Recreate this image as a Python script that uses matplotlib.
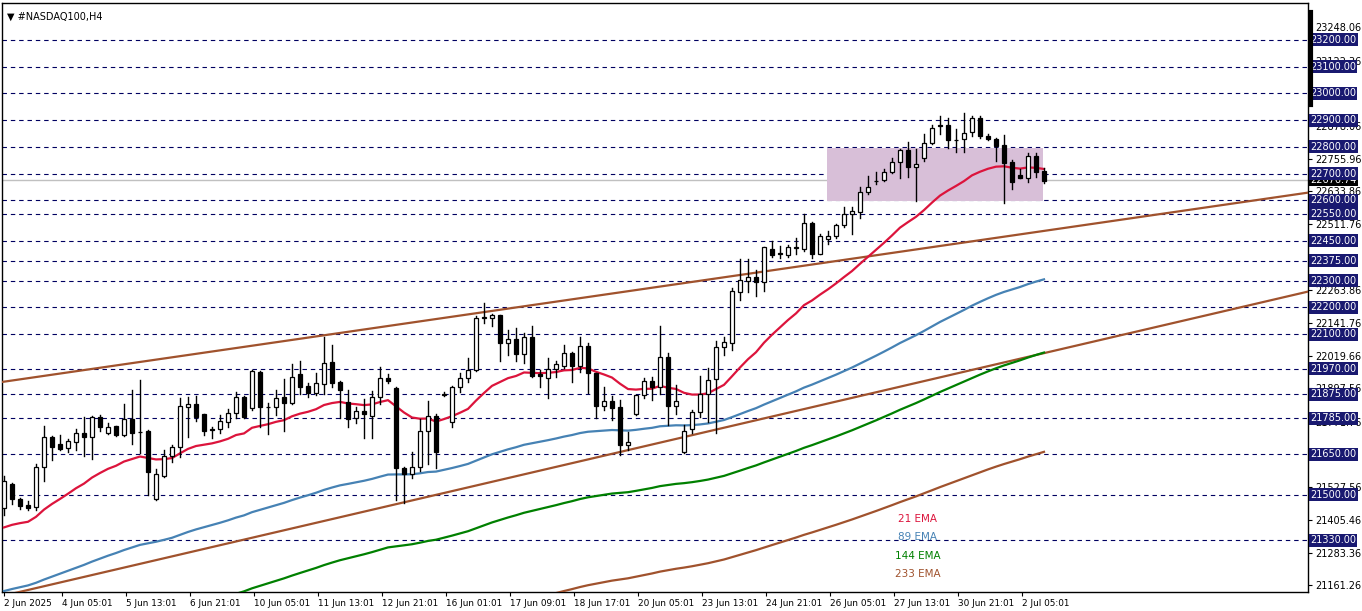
import numpy as np
import matplotlib
matplotlib.use("Agg")
import matplotlib.pyplot as plt
from matplotlib.patches import Rectangle
from matplotlib.transforms import blended_transform_factory

# ---------------- data ----------------
opens = [21449,21539,21483,21460,21453,21602,21714,21688,21673,21696,21729,21714,21789,21729,21755,21722,21782,21733,21737,21483,
         21569,21643,21677,21826,21838,21800,21744,21744,21770,21804,21864,21823,21957,21826,21826,21864,21841,21950,21905,21879,
         21912,21994,21920,21845,21785,21811,21793,21864,21935,21897,21599,21576,21602,21737,21793,21873,21770,21901,21935,21964,
         22162,22162,22170,22065,22080,22024,22088,21950,21935,21968,21979,22028,21979,22054,21953,21830,21849,21826,21684,21800,
         21871,21923,21901,22013,21830,21658,21744,21808,21875,21931,22050,22065,22259,22300,22315,22293,22420,22401,22394,22423,
         22420,22517,22401,22457,22468,22509,22550,22558,22633,22674,22677,22707,22745,22789,22726,22757,22815,22883,22883,22827,
         22830,22857,22909,22842,22830,22808,22745,22696,22685,22767,22711]
highs = [21569,21545,21487,21475,21614,21755,21720,21722,21707,21744,21789,21793,21796,21767,21758,21838,21890,21927,21740,21595,
         21666,21685,21860,21864,21867,21803,21752,21796,21819,21882,21867,21964,21961,21841,21890,21931,21987,21998,21916,21953,
         22088,22061,21923,21890,21826,21856,21886,21976,21950,21901,21602,21658,21782,21849,21800,21882,21905,21953,22009,22166,
         22218,22177,22173,22114,22121,22106,22132,21964,22009,21998,22061,22032,22091,22065,21956,21901,21867,21852,21733,21874,
         21935,21938,22129,22028,21908,21759,21815,21942,21972,22076,22091,22271,22379,22379,22338,22427,22450,22431,22435,22461,
         22550,22521,22476,22487,22513,22577,22577,22651,22692,22707,22718,22760,22792,22819,22793,22849,22883,22916,22909,22868,
         22927,22916,22916,22849,22833,22845,22752,22718,22778,22778,22722]
lows = [21423,21464,21446,21442,21442,21550,21628,21666,21658,21666,21643,21632,21737,21725,21718,21718,21688,21655,21498,21479,
        21565,21621,21640,21714,21774,21722,21711,21729,21752,21785,21786,21815,21752,21725,21796,21737,21838,21875,21864,21871,
        21875,21901,21785,21752,21767,21711,21711,21838,21919,21479,21468,21561,21587,21614,21599,21870,21752,21882,21920,21961,
        22140,22132,21998,22021,21998,21991,21940,21901,21860,21938,21972,21920,21957,21879,21785,21815,21778,21647,21666,21796,
        21860,21852,21875,21759,21800,21655,21729,21789,21770,21729,22021,22039,22226,22256,22244,22263,22390,22386,22390,22401,
        22412,22386,22398,22438,22461,22502,22476,22536,22625,22662,22673,22704,22685,22689,22599,22746,22812,22849,22797,22782,
        22782,22842,22834,22827,22746,22592,22644,22683,22670,22689,22666]
closes = [21550,21483,21457,21449,21602,21714,21677,21670,21699,21729,21714,21789,21752,21752,21722,21782,21729,21734,21584,21576,
          21643,21677,21830,21838,21789,21737,21740,21774,21804,21864,21789,21961,21826,21828,21860,21841,21938,21901,21879,21916,
          21991,21916,21890,21782,21811,21800,21864,21935,21923,21599,21576,21602,21737,21793,21658,21876,21901,21935,21964,22162,
          22164,22173,22065,22080,22024,22088,21942,21942,21968,21987,22028,21979,22054,21953,21830,21849,21823,21684,21696,21871,
          21923,21901,22013,21830,21849,21737,21808,21875,21927,22050,22069,22263,22304,22315,22293,22424,22397,22400,22427,22425,
          22517,22401,22465,22468,22509,22550,22562,22633,22651,22672,22707,22745,22789,22726,22737,22815,22872,22879,22827,22825,
          22853,22909,22842,22830,22804,22741,22670,22685,22767,22707,22674]

ema_periods = [21, 89, 144, 233]
ema_seeds = [21360, 21130, 20832, 20556]
ema_colors = ["#DC143C", "#4682B4", "#008000", "#A0522D"]
ema_labels = ["21 EMA", "89 EMA", "144 EMA", "233 EMA"]

levels = [23200, 23100, 23000, 22900, 22800, 22700, 22600, 22550, 22450, 22375,
          22300, 22200, 22100, 21970, 21875, 21785, 21650, 21500, 21330]
axis_ticks = [21161.26, 21283.36, 21405.46, 21527.56, 21771.76, 21897.56, 22019.66,
              22141.76, 22263.86, 22511.76, 22633.86, 22755.96, 22878.06, 23122.36, 23248.06]
current_price = 22676.74

trend_x = [[-0.5, 163.0], [-0.5, 163.0]]
trend_y = [[21920, 22629], [21119, 22259]]

zone_x = [102.9, 129.9]
zone_y = [22599, 22797]

date_pos = [0, 7.25, 15.25, 23.25, 31.25, 39.25, 47.25, 55.25, 63.25, 71.25, 79.25, 87.25, 95.25, 103.25, 111.25, 119.25, 127.25]
date_labels = ["2 Jun 2025", "4 Jun 05:01", "5 Jun 13:01", "6 Jun 21:01", "10 Jun 05:01", "11 Jun 13:01",
               "12 Jun 21:01", "16 Jun 01:01", "17 Jun 09:01", "18 Jun 17:01", "20 Jun 05:01", "23 Jun 13:01",
               "24 Jun 21:01", "26 Jun 05:01", "27 Jun 13:01", "30 Jun 21:01", "2 Jul 05:01"]

# ---------------- figure ----------------
W, H = 1362, 611
fig = plt.figure(figsize=(W / 100, H / 100), dpi=100)
ax = fig.add_axes([2 / W, 19 / H, 1306 / W, 589 / H])
ax.set_xlim(-0.25, 163)
ax.set_ylim(21135.8, 23338)

n = len(closes)
x = np.arange(n)

for lv in levels:
    ax.axhline(lv, color="#000060", lw=0.8, ls=(0, (4, 3.5)), zorder=1)
ax.axhline(current_price, color="#C0C0C0", lw=1.0, zorder=1)

ax.add_patch(Rectangle((zone_x[0], zone_y[0]), zone_x[1] - zone_x[0], zone_y[1] - zone_y[0],
                       facecolor="#D8BFD8", edgecolor="none", zorder=2))

for tx, ty in zip(trend_x, trend_y):
    ax.plot(tx, ty, color="#A0522D", lw=1.6, zorder=3)

for p, s, c in zip(ema_periods, ema_seeds, ema_colors):
    a = 2.0 / (p + 1)
    e = []
    prev = s
    for cl in closes:
        prev = a * cl + (1 - a) * prev
        e.append(prev)
    ax.plot(x, e, color=c, lw=1.6, zorder=4)

bw = 0.6
for i in range(n):
    o, h, l, c = opens[i], highs[i], lows[i], closes[i]
    ax.plot([i, i], [l, h], color="black", lw=1.0, zorder=5)
    bottom = min(o, c)
    height = max(abs(c - o), 1.5)
    fc = "white" if c >= o else "black"
    ax.add_patch(Rectangle((i - bw / 2, bottom), bw, height, facecolor=fc,
                           edgecolor="black", lw=0.9, zorder=6))

for k, (lab, c) in enumerate(zip(ema_labels, ema_colors)):
    ax.text(916 / 1306, 1 - (518 - 2 + 18.3 * k) / 589, lab, color=c, fontsize=7.5,
            ha="center", va="center", transform=ax.transAxes)

ax.text(0.004, 0.985, "\u25BC #NASDAQ100,H4", fontsize=7, ha="left", va="top",
        transform=ax.transAxes, color="black")

for sp in ax.spines.values():
    sp.set_color("black")
    sp.set_linewidth(1)
ax.yaxis.tick_right()
ax.set_yticks(axis_ticks)
ax.set_yticklabels([f"{t:.2f}" for t in axis_ticks], fontsize=7)
ax.tick_params(axis="y", length=3, pad=2, width=0.8)
ax.set_xticks(date_pos)
ax.set_xticklabels(date_labels, fontsize=6.4, ha="left")
ax.tick_params(axis="x", length=3, pad=2, width=0.8)

trans = blended_transform_factory(ax.transAxes, ax.transData)
ax.text(1.0015, current_price, f"{current_price:.2f}", transform=trans, fontsize=7, color="white",
        ha="left", va="center", zorder=9, clip_on=False,
        bbox=dict(boxstyle="square,pad=0.15", facecolor="black", edgecolor="none"))
for lv in levels:
    ax.text(1.0015, lv, f"{lv:.2f}", transform=trans, fontsize=7, color="white",
            ha="left", va="center", zorder=10, clip_on=False,
            bbox=dict(boxstyle="square,pad=0.15", facecolor="#191970", edgecolor="none"))

fig.add_artist(plt.Line2D([1311 / W, 1311 / W], [1 - 12 / H, 1 - 105 / H], color="black", lw=3))

fig.savefig("out.png", dpi=100, facecolor="white")
